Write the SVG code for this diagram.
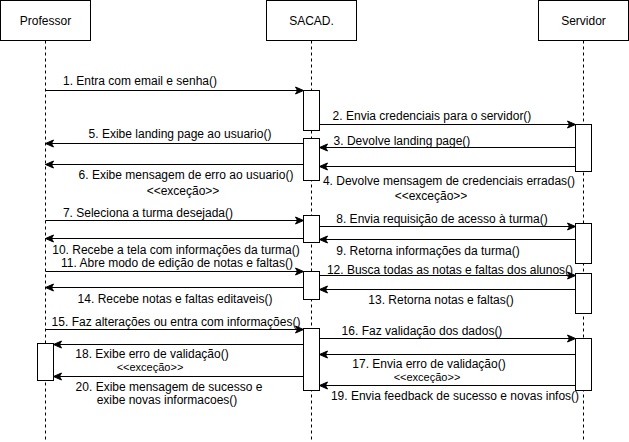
<svg xmlns="http://www.w3.org/2000/svg" width="629" height="442" viewBox="0 0 629 442">
<defs>
<style>
.box{fill:#fff;stroke:#000;stroke-width:1}
.life{stroke:#000;stroke-width:1;stroke-dasharray:3 3;fill:none}
.act{fill:#fff;stroke:#000;stroke-width:1}
.msg{stroke:#000;stroke-width:1;fill:none;marker-end:url(#arr)}
text{font-family:"Liberation Sans",Arial,sans-serif;font-size:12px;fill:#000;text-anchor:middle}
.small{font-size:11px}
</style>
<marker id="arr" markerUnits="userSpaceOnUse" markerWidth="10" markerHeight="10" viewBox="0 0 10 10" refX="9" refY="5" orient="auto">
<path d="M1,1.5 L9,5 L1,8.5 L3,5 Z" fill="#000" stroke="#000" stroke-width="1"/>
</marker>
</defs>
<g id="lifelines">
<line class="life" x1="45.5" y1="40.5" x2="45.5" y2="442"/>
<line class="life" x1="311.5" y1="40.5" x2="311.5" y2="442"/>
<line class="life" x1="583.5" y1="40.5" x2="583.5" y2="442"/>
</g>
<g id="professor">
<rect class="box" x="0.5" y="0.5" width="90" height="40"/>
<text x="45.5" y="24.5">Professor</text>
<rect class="act" x="37.5" y="343.5" width="16" height="37"/>
</g>
<g id="sacad">
<rect class="box" x="266.5" y="0.5" width="90" height="40"/>
<text x="311.5" y="24.5">SACAD.</text>
<rect class="act" x="303.5" y="90.5" width="16" height="40"/>
<rect class="act" x="303.5" y="138.5" width="16" height="42"/>
<rect class="act" x="303.5" y="215.5" width="16" height="27"/>
<rect class="act" x="303.5" y="271.5" width="16" height="28"/>
<rect class="act" x="303.5" y="328.5" width="16" height="62"/>
</g>
<g id="servidor">
<rect class="box" x="538.5" y="0.5" width="90" height="40"/>
<text x="583.5" y="24.5">Servidor</text>
<rect class="act" x="575.5" y="124.5" width="16" height="47"/>
<rect class="act" x="575.5" y="223.5" width="16" height="40"/>
<rect class="act" x="575.5" y="273.5" width="16" height="40"/>
<rect class="act" x="575.5" y="338.5" width="16" height="52"/>
</g>
<g id="connectors">
<line class="msg" x1="45.5" y1="90.5" x2="303.5" y2="90.5"/>
<line class="msg" x1="319.5" y1="124.5" x2="575.5" y2="124.5"/>
<line class="msg" x1="575.5" y1="147.5" x2="319.5" y2="147.5"/>
<line class="msg" x1="575.5" y1="166.5" x2="319.5" y2="166.5"/>
<line class="msg" x1="303.5" y1="143.5" x2="45.5" y2="143.5"/>
<line class="msg" x1="303.5" y1="164.5" x2="45.5" y2="164.5"/>
<line class="msg" x1="45.5" y1="220.5" x2="303.5" y2="220.5"/>
<line class="msg" x1="319.5" y1="226.5" x2="575.5" y2="226.5"/>
<line class="msg" x1="575.5" y1="239.5" x2="319.5" y2="239.5"/>
<line class="msg" x1="303.5" y1="238.5" x2="45.5" y2="238.5"/>
<line class="msg" x1="45.5" y1="271.5" x2="303.5" y2="271.5"/>
<line class="msg" x1="319.5" y1="275.5" x2="575.5" y2="275.5"/>
<line class="msg" x1="575.5" y1="289.5" x2="319.5" y2="289.5"/>
<line class="msg" x1="303.5" y1="287.5" x2="45.5" y2="287.5"/>
<line class="msg" x1="45.5" y1="329.5" x2="303.5" y2="329.5"/>
<line class="msg" x1="319.5" y1="338.5" x2="575.5" y2="338.5"/>
<line class="msg" x1="575.5" y1="354.5" x2="319.5" y2="354.5"/>
<line class="msg" x1="303.5" y1="344.5" x2="53.5" y2="344.5"/>
<line class="msg" x1="575.5" y1="385.5" x2="319.5" y2="385.5"/>
<line class="msg" x1="303.5" y1="376.5" x2="53.5" y2="376.5"/>
</g>
<g id="labels">
<text x="140" y="84.5">1. Entra com email e senha()</text>
<text x="432" y="119.5">2. Envia credenciais para o servidor()</text>
<text x="402" y="144.5">3. Devolve landing page()</text>
<text x="449" y="184.5">4. Devolve mensagem de credenciais erradas()</text>
<text x="431" y="199.5">&lt;&lt;exceção&gt;&gt;</text>
<text x="180" y="137.5">5. Exibe landing page ao usuario()</text>
<text x="186" y="178.5">6. Exibe mensagem de erro ao usuario()</text>
<text x="183" y="194.5">&lt;&lt;exceção&gt;&gt;</text>
<text x="148" y="216.5">7. Seleciona a turma desejada()</text>
<text x="442" y="222.5">8. Envia requisição de acesso à turma()</text>
<text x="428" y="254.5">9. Retorna informações da turma()</text>
<text x="176" y="253.5">10. Recebe a tela com informações da turma()</text>
<text x="177" y="266.5">11. Abre modo de edição de notas e faltas()</text>
<text x="450" y="273.5">12. Busca todas as notas e faltas dos alunos()</text>
<text x="441" y="303.5">13. Retorna notas e faltas()</text>
<text x="175" y="302.5">14. Recebe notas e faltas editaveis()</text>
<text x="176" y="325.5">15. Faz alterações ou entra com informações()</text>
<text x="422" y="334.5">16. Faz validação dos dados()</text>
<text x="429" y="367.5">17. Envia erro de validação()</text>
<text class="small" x="427" y="380.5">&lt;&lt;exceção&gt;&gt;</text>
<text x="152" y="357.5">18. Exibe erro de validação()</text>
<text class="small" x="150" y="370.5">&lt;&lt;exceção&gt;&gt;</text>
<text x="455" y="399.5">19. Envia feedback de sucesso e novas infos()</text>
<text x="169" y="390.5">20. Exibe mensagem de sucesso e</text>
<text x="167" y="403.5">exibe novas informacoes()</text>
</g>
</svg>
